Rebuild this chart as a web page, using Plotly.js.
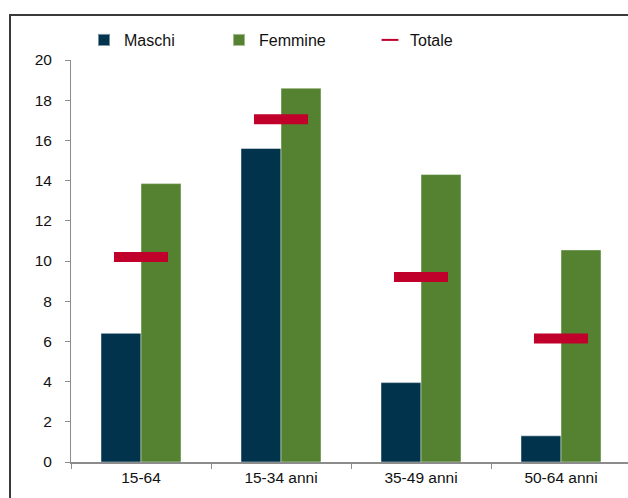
<!DOCTYPE html>
<html>
<head>
<meta charset="utf-8">
<script src="https://cdn.plot.ly/plotly-3.0.1.min.js"></script>
<style>
  html, body { margin: 0; padding: 0; width: 628px; height: 498px; overflow: hidden; background: #fff; }
  #frame { position: absolute; left: 9px; top: 14px; width: 700px; height: 600px;
           border-left: 2px solid #3a3a3a; border-top: 2px solid #3a3a3a; }
  #chart { position: absolute; left: 0; top: 0; width: 628px; height: 498px; }
</style>
</head>
<body>
<div id="frame"></div>
<div id="chart"></div>
<script>
// Age groups and rates by sex
const categories = ['15-64', '15-34 anni', '35-49 anni', '50-64 anni'];
const maschi   = [6.4, 15.6, 3.95, 1.3];
const femmine  = [13.85, 18.6, 14.3, 10.55];
const totale   = [10.2, 17.05, 9.2, 6.15];
const yTicks   = [0, 2, 4, 6, 8, 10, 12, 14, 16, 18, 20];

const FONT = '"Liberation Sans", Arial, sans-serif';

const traces = [
  {
    type: 'bar', name: 'Maschi', x: categories, y: maschi,
    marker: { color: '#02334c', line: { color: 'rgba(255,255,255,0.45)', width: 1 } },
    legend: 'legend', hoverinfo: 'y'
  },
  {
    type: 'bar', name: 'Femmine', x: categories, y: femmine,
    marker: { color: '#548230', line: { color: 'rgba(255,255,255,0.45)', width: 1 } },
    legend: 'legend2', hoverinfo: 'y'
  },
  {
    // short horizontal dash per group (line-ew length is 1.4 x size)
    type: 'scatter', mode: 'markers', name: 'Totale', x: categories, y: totale,
    marker: { symbol: 'line-ew', size: 38.6, color: '#c0002a',
              line: { color: '#c0002a', width: 10 } },
    legend: 'legend3', hoverinfo: 'y'
  }
];

const legendBase = {
  orientation: 'h', xref: 'container', yref: 'container',
  xanchor: 'left', yanchor: 'middle', y: 1 - 40 / 498,
  bgcolor: 'rgba(0,0,0,0)', borderwidth: 0, itemsizing: 'constant',
  font: { family: FONT, size: 16, color: '#111' }
};

const layout = {
  width: 628, height: 498,
  margin: { l: 71, r: 0, t: 60, b: 36, pad: 0 },
  paper_bgcolor: 'rgba(0,0,0,0)',
  plot_bgcolor: 'rgba(0,0,0,0)',
  barmode: 'group', bargap: 0.4286, bargroupgap: 0,
  font: { family: FONT, size: 15, color: '#111' },
  xaxis: {
    type: 'category', range: [-0.5, 3.5 - 3 / 140],
    showline: true, linecolor: '#8c8c8c', linewidth: 2,
    ticks: 'outside', tickson: 'boundaries', ticklen: 5, tickcolor: '#8c8c8c', tickwidth: 1,
    showgrid: false, zeroline: false,
    tickfont: { family: FONT, size: 15.5, color: '#111' }
  },
  yaxis: {
    range: [0, 20], tickvals: yTicks, ticktext: yTicks.map(String),
    showline: true, linecolor: '#8c8c8c', linewidth: 1,
    ticks: 'outside', ticklen: 5, tickcolor: '#8c8c8c', tickwidth: 1,
    ticklabelstandoff: 10,
    showgrid: false, zeroline: false,
    tickfont: { family: FONT, size: 15.5, color: '#111' }
  },
  legend:  Object.assign({}, legendBase, { x: 84 / 628 }),
  legend2: Object.assign({}, legendBase, { x: 219 / 628 }),
  legend3: Object.assign({}, legendBase, { x: 370 / 628 }),
  showlegend: true
};

Plotly.newPlot('chart', traces, layout, { displayModeBar: false, staticPlot: true });
</script>
</body>
</html>
